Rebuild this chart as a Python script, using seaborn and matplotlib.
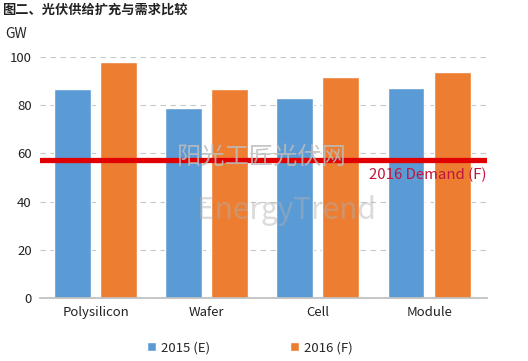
import pandas as pd
import seaborn as sns
import matplotlib.pyplot as plt

# Данные
categories = ["Polysilicon", "Wafer", "Cell", "Module"]
series = ["2015 (E)", "2016 (F)"]
values_2015 = [86.7, 78.8, 83.0, 87.1]
values_2016 = [97.9, 86.7, 91.7, 93.8]
demand_2016 = 57.3
yticks = [0, 20, 40, 60, 80, 100]

df = pd.DataFrame({
    "category": categories * 2,
    "series": [series[0]] * 4 + [series[1]] * 4,
    "value": values_2015 + values_2016,
})

sns.set_theme(style="white")
plt.rcParams["font.family"] = ["Noto Sans CJK SC", "DejaVu Sans"]

fig = plt.figure(figsize=(5.28, 3.61), dpi=100)
ax = fig.add_axes([0.0758, 0.1745, 0.8462, 0.6675])

sns.barplot(
    data=df, x="category", y="value", hue="series",
    palette=["#5B9BD5", "#ED7D31"], width=0.83, gap=0.2,
    saturation=1, ax=ax, legend=True,
)

ax.set_ylim(0, 100)
ax.set_xlim(-0.5, 3.52)
ax.set_yticks(yticks)
ax.yaxis.grid(True, linestyle=(0, (5, 4)), color="#c8c8c8", linewidth=0.8)
ax.set_axisbelow(True)
for s in ["top", "right", "left"]:
    ax.spines[s].set_visible(False)
ax.spines["bottom"].set_color("#bfbfbf")
ax.tick_params(axis="both", length=0, labelsize=9.5, colors="#222222", pad=6)
ax.set_xlabel("")
ax.set_ylabel("")

# Линия спроса
ax.axhline(demand_2016, color="#E00000", linewidth=3.8, zorder=5)
ax.text(3.52, demand_2016 - 3, "2016 Demand (F)", color="#C0143C",
        fontsize=10.8, ha="right", va="top", zorder=6)

# Водяные знаки
ax.text(0.735, 58.5, "阳光工匠光伏网", color="#bdbdbd", alpha=0.85,
        fontsize=17.5, ha="left", va="center", zorder=6)
ax.text(0.91, 36.5, "EnergyTrend", color="#b0b0b0", alpha=0.45,
        fontsize=21.5, fontweight="medium", ha="left", va="center", zorder=6)

fig.text(0.004, 0.972, "图二、光伏供给扩充与需求比较", fontsize=9.5,
         fontweight="bold", ha="left", va="center", color="#222222")
fig.text(0.01, 0.905, "GW", fontsize=10, ha="left", va="center", color="#222222")

ax.legend(loc="upper center", bbox_to_anchor=(0.47, -0.13), ncol=2,
          frameon=False, fontsize=9.5, handlelength=0.7, handleheight=0.7,
          columnspacing=6, handletextpad=0.4)

plt.savefig("out.png", dpi=100)
